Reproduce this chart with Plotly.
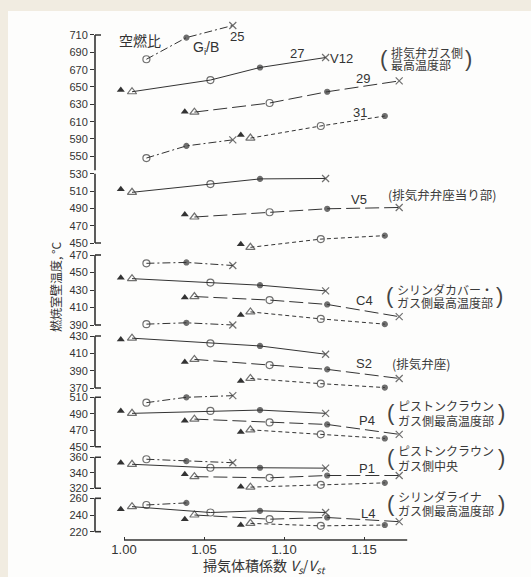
import plotly.graph_objects as go

W, H = 531, 577

# ---------------- data ----------------
# Scavenging volume coefficient Vs/Vst of each measuring point
X_AF25 = [1.014, 1.039, 1.068]                 # o  *  x
X_AF27 = [0.998, 1.005, 1.054, 1.085, 1.126]   # ▲ △ o * x
X_AF29 = [1.038, 1.044, 1.091, 1.127, 1.172]   # ▲ △ o * x
X_AF31 = [1.073, 1.079, 1.123, 1.163]          # ▲ △ o *

# Wall temperatures (deg C)
V12_AF25 = [682, 707, 721]
V12_AF25_LOW = [568, 582, 589]
V12_AF27 = [646.5, 644.5, 658, 672.5, 684]
V12_AF29 = [621.5, 621, 631.5, 644.5, 657]
V12_AF31 = [594.5, 591, 605, 616.5]

V5_AF27 = [512, 508.5, 518, 524, 524.5]
V5_AF29 = [483, 480, 485.5, 489.5, 491]
V5_AF31 = [448.5, 445, 454.5, 458.5]

C4_AF25 = [460.5, 461.5, 458]
C4_AF25_LOW = [391, 392.5, 390]
C4_AF27 = [444, 443, 438.5, 435.5, 429]
C4_AF29 = [421.5, 422.5, 418.5, 413.5, 399.5]
C4_AF31 = [401.5, 405, 397, 391]

S2_AF27 = [426, 427.5, 421.5, 418.5, 409]
S2_AF29 = [400, 403, 396.5, 391.5, 381]
S2_AF31 = [378, 381, 375, 370.5]

P4_AF25 = [503.5, 510, 512]
P4_AF27 = [493.5, 490.5, 493.5, 494.5, 490.5]
P4_AF29 = [481.5, 483.5, 479.5, 477, 465]
P4_AF31 = [468, 470.5, 465, 460]

P1_AF25 = [357.5, 355, 353]
P1_AF27 = [353, 351, 346.5, 346.5, 346]
P1_AF29 = [338, 335, 333.5, 336.5, 336.5]
P1_AF31 = [322, 321.5, 324.5, 327]

L4_AF25 = [252, 254.5]
L4_AF27 = [247, 250, 243, 245, 243]
L4_AF29 = [235, 240, 235, 237, 232]
L4_AF31 = [228, 230, 227, 228]

# tick values / labels
X_TICKS = [1.00, 1.05, 1.10, 1.15]
X_TICKTEXT = ["1.00", "1.05", "1.10", "1.15"]
V12_TICKS = [710, 690, 670, 650, 630, 610, 590, 570]
V12_TICKTEXT = ["710", "690", "670", "650", "630", "610", "590", "550"]
V5_TICKS = [530, 510, 490, 470, 450]
C4_TICKS = [470, 450, 430, 410, 390]
S2_TICKS = [430, 410, 390, 370]
P4_TICKS = [510, 490, 470, 450]
P1_TICKS = [360, 340, 320]
L4_TICKS = [260, 240, 220]

# ---------------- styling ----------------
INK = "#333333"
NUMFONT = "Liberation Sans"
JPFONT = "Noto Sans CJK JP"
SYM_SIZE = {"triangle-up": 7, "triangle-up-open": 8, "circle-open": 7,
            "circle": 5, "x-thin-open": 7}
DASH = {"AF25": "8px,3px,2px,3px", "AF27": "solid", "AF29": "14px,5px", "AF31": "4px,3px"}
SYMS = {"AF25": ["circle-open", "circle", "x-thin-open"],
        "AF27": ["triangle-up", "triangle-up-open", "circle-open", "circle", "x-thin-open"],
        "AF29": ["triangle-up", "triangle-up-open", "circle-open", "circle", "x-thin-open"],
        "AF31": ["triangle-up", "triangle-up-open", "circle-open", "circle"]}
XS = {"AF25": X_AF25, "AF27": X_AF27, "AF29": X_AF29, "AF31": X_AF31}

def px2fx(px):
    return px / W

def px2fy(py):
    return 1 - py / H

# x axis: value 1.00 at pixel 124, 1600 px per unit, domain pixel 95..420
X0_PX, XK = 124, 1600.0
XDOM = (95, 420)
XRANGE = [1 + (XDOM[0] - X0_PX) / XK, 1 + (XDOM[1] - X0_PX) / XK]

# panels: (axis name, ticks, ticktext, calibration (v_a, px_a, v_b, px_b), series)
panels = [
    ("y", V12_TICKS, V12_TICKTEXT, (710, 35, 570, 156.3),
     [("AF25", V12_AF25), ("AF27", V12_AF27), ("AF29", V12_AF29),
      ("AF25", V12_AF25_LOW), ("AF31", V12_AF31)]),
    ("y2", V5_TICKS, None, (530, 173.7, 450, 243),
     [("AF27", V5_AF27), ("AF29", V5_AF29), ("AF31", V5_AF31)]),
    ("y3", C4_TICKS, None, (470, 255, 390, 325),
     [("AF25", C4_AF25), ("AF27", C4_AF27), ("AF29", C4_AF29),
      ("AF31", C4_AF31), ("AF25", C4_AF25_LOW)]),
    ("y4", S2_TICKS, None, (430, 336, 370, 388),
     [("AF27", S2_AF27), ("AF29", S2_AF29), ("AF31", S2_AF31)]),
    ("y5", P4_TICKS, None, (510, 397.3, 450, 446.7),
     [("AF25", P4_AF25), ("AF27", P4_AF27), ("AF29", P4_AF29), ("AF31", P4_AF31)]),
    ("y6", P1_TICKS, None, (360, 457.3, 320, 488.3),
     [("AF25", P1_AF25), ("AF27", P1_AF27), ("AF29", P1_AF29), ("AF31", P1_AF31)]),
    ("y7", L4_TICKS, None, (260, 498.3, 220, 531.7),
     [("AF25", L4_AF25), ("AF27", L4_AF27), ("AF29", L4_AF29), ("AF31", L4_AF31)]),
]

fig = go.Figure()
layout_axes = {}
shapes = []

# white paper of the scan
shapes.append(dict(type="rect", xref="paper", yref="paper", x0=px2fx(8), x1=1,
                   y0=0, y1=px2fy(11), fillcolor="#fdfdfc", line=dict(width=0), layer="below"))

for ax, ticks, ticktext, cal, series in panels:
    va, pa, vb, pb = cal
    k = (pb - pa) / (va - vb)
    hi, lo = max(ticks) + 16, min(ticks) - 16
    px_hi = pa - (hi - va) * k
    px_lo = pa + (va - lo) * k
    key = "yaxis" if ax == "y" else "yaxis" + ax[1:]
    layout_axes[key] = dict(
        domain=[px2fy(px_lo), px2fy(px_hi)], range=[lo, hi], anchor="x",
        showgrid=False, zeroline=False, showline=False,
        ticks="outside", ticklen=4, tickwidth=1, tickcolor=INK,
        tickvals=ticks, ticktext=ticktext if ticktext else [str(t) for t in ticks],
        tickfont=dict(family=NUMFONT, size=11, color=INK),
    )
    for name, ys in series:
        xs = XS[name][:len(ys)]
        syms = SYMS[name][:len(ys)]
        start = 0
        if syms[0] == "triangle-up":
            fig.add_trace(go.Scatter(
                x=[xs[0]], y=[ys[0]], xaxis="x", yaxis=ax, mode="markers",
                marker=dict(symbol="triangle-up", size=7, color=INK),
                showlegend=False, cliponaxis=False, hoverinfo="skip"))
            start = 1
        fig.add_trace(go.Scatter(
            x=xs[start:], y=ys[start:], xaxis="x", yaxis=ax, mode="lines+markers",
            line=dict(color=INK, width=1, dash=DASH[name]),
            marker=dict(symbol=syms[start:], size=[SYM_SIZE[s] for s in syms[start:]],
                        color=INK, line=dict(color=INK, width=1.2)),
            showlegend=False, cliponaxis=False, hoverinfo="skip"))

# y axis lines with end caps
def vline(yref, v0, v1):
    shapes.append(dict(type="line", xref="paper", yref=yref, x0=px2fx(95), x1=px2fx(95),
                       y0=v0, y1=v1, line=dict(color=INK, width=1.6)))

def cap(yref, v):
    shapes.append(dict(type="line", xref="paper", yref=yref, x0=px2fx(95), x1=px2fx(101),
                       y0=v, y1=v, line=dict(color=INK, width=1.6)))

vline("y", 710, 550); cap("y", 710)
vline("y2", 530, 450); cap("y2", 450)
for ax, ticks, _, _, _ in panels[2:]:
    vline(ax, max(ticks), min(ticks)); cap(ax, max(ticks)); cap(ax, min(ticks))

# x axis base line
shapes.append(dict(type="line", xref="x", yref="paper", x0=1.0, x1=1.177,
                   y0=px2fy(540), y1=px2fy(540), line=dict(color=INK, width=1.6)))

annotations = []

def ann(text, px, py, size=13, family=NUMFONT, xanchor="center", angle=0, color=INK):
    annotations.append(dict(text=text, x=px2fx(px), y=px2fy(py), xref="paper", yref="paper",
                            showarrow=False, xanchor=xanchor, yanchor="middle", textangle=angle,
                            font=dict(family=family, size=size, color=color)))

# series / location labels
ann("25", 237, 36)
ann("27", 297, 54)
ann("V12", 328, 58, xanchor="left")
ann("29", 363, 79)
ann("31", 360, 112)
ann("V5", 359, 200)
ann("C4", 364, 300)
ann("S2", 364, 363)
ann("P4", 367, 420)
ann("P1", 367, 468)
ann("L4", 368, 513)
ann("空燃比", 140, 40, size=14, family=JPFONT)
ann("G<sub>i</sub>/B", 206, 48, size=14)

# Japanese position notes
def note(lines, left, ys, right):
    mid = sum(ys) / len(ys)
    ann("(", left - 5, mid, size=22, color="#444444")
    for t, y in zip(lines, ys):
        ann(t, left, y, size=12, family=JPFONT, xanchor="left", color="#3a3a3a")
    ann(")", right, mid, size=22, color="#444444")

note(["排気弁ガス側", "最高温度部"], 389, [52, 65], 468)
ann("(排気弁弁座当り部)", 386, 194, size=12.5, family=JPFONT, xanchor="left", color="#3a3a3a")
note(["シリンダカバー・", "ガス側最高温度部"], 395, [289, 302], 500)
ann("(排気弁座)", 390, 363, size=12.5, family=JPFONT, xanchor="left", color="#3a3a3a")
note(["ピストンクラウン", "ガス側最高温度部"], 396, [405, 420], 501)
note(["ピストンクラウン", "ガス側中央"], 396, [450, 465], 501)
note(["シリンダライナ", "ガス側最高温度部"], 396, [497, 510], 501)

# axis titles
ann("燃焼室壁温度, °C", 55, 287, size=12, family=JPFONT, angle=-90)
ann("掃気体積係数 <i>V<sub>s</sub></i>/<i>V<sub>st</sub></i>", 264, 566, size=14, family=JPFONT)

fig.update_layout(
    width=W, height=H, margin=dict(l=0, r=0, t=0, b=0),
    paper_bgcolor="#f1ece1", plot_bgcolor="rgba(0,0,0,0)",
    showlegend=False,
    xaxis=dict(domain=[px2fx(XDOM[0]), px2fx(XDOM[1])], range=XRANGE, anchor="free",
               position=px2fy(540), showgrid=False, zeroline=False, showline=False,
               ticks="inside", ticklen=3, tickwidth=1, tickcolor=INK,
               tickvals=X_TICKS, ticktext=X_TICKTEXT,
               tickfont=dict(family=NUMFONT, size=13, color=INK)),
    shapes=shapes, annotations=annotations,
    **layout_axes,
)

fig.write_html("out.html", config={"displayModeBar": False, "staticPlot": True},
               post_script="document.body.style.margin='0';document.body.style.overflow='hidden';")
